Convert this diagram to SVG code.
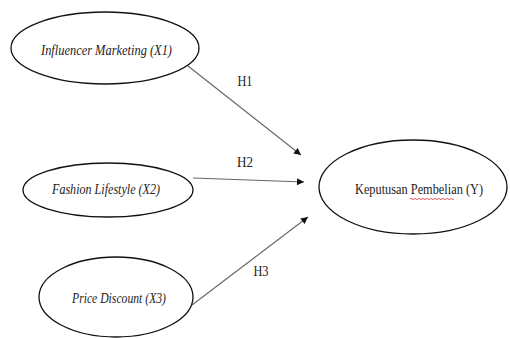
<svg xmlns="http://www.w3.org/2000/svg" width="510" height="338" viewBox="0 0 510 338">
<defs>
<style>
.node ellipse{fill:#fff;stroke:#111;stroke-width:1.3}
.lbl{font-family:"Liberation Serif","Times New Roman",serif;font-size:15px;fill:#222;text-anchor:middle}
.it{font-style:italic}
.conn line{stroke:#666;stroke-width:1.1}
.hl{font-family:"Liberation Serif","Times New Roman",serif;font-size:15px;fill:#222;text-anchor:middle}
</style>
<marker id="ah" viewBox="0 0 10 10" refX="10" refY="5" markerWidth="8" markerHeight="7" markerUnits="userSpaceOnUse" orient="auto">
<path d="M0,0 L10,5 L0,10 z" fill="#111"/>
</marker>
</defs>
<rect width="510" height="338" fill="#fff"/>
<g id="connectors" class="conn">
<line x1="188" y1="66" x2="301" y2="155" marker-end="url(#ah)"/>
<line x1="193" y1="178" x2="304" y2="182" marker-end="url(#ah)"/>
<line x1="192" y1="305" x2="308" y2="217" marker-end="url(#ah)"/>
<text class="hl" x="245" y="86" textLength="15" lengthAdjust="spacingAndGlyphs">H1</text>
<text class="hl" x="245" y="167" textLength="16" lengthAdjust="spacingAndGlyphs">H2</text>
<text class="hl" x="261" y="276" textLength="15" lengthAdjust="spacingAndGlyphs">H3</text>
</g>
<g id="x1" class="node">
<ellipse cx="105" cy="48" rx="94" ry="36"/>
<text class="lbl it" x="106.5" y="55" textLength="131" lengthAdjust="spacingAndGlyphs">Influencer Marketing (X1)</text>
</g>
<g id="x2" class="node">
<ellipse cx="108" cy="190" rx="85" ry="27"/>
<text class="lbl it" x="106" y="194" textLength="108" lengthAdjust="spacingAndGlyphs">Fashion Lifestyle (X2)</text>
</g>
<g id="x3" class="node">
<ellipse cx="116" cy="297" rx="77" ry="40"/>
<text class="lbl it" x="119" y="303" textLength="94" lengthAdjust="spacingAndGlyphs">Price Discount (X3)</text>
</g>
<g id="y" class="node">
<ellipse cx="413" cy="187" rx="94" ry="47"/>
<text class="lbl" x="419" y="194" textLength="128" lengthAdjust="spacingAndGlyphs">Keputusan Pembelian (Y)</text>
<path d="M410,199 q1,-1.2 2,0 t2,0 t2,0 t2,0 t2,0 t2,0 t2,0 t2,0 t2,0 t2,0 t2,0 t2,0 t2,0 t2,0 t2,0 t2,0 t2,0 t2,0 t2,0 t2,0 t2,0 t2,0" fill="none" stroke="#d33" stroke-width="0.8"/>
</g>
</svg>
